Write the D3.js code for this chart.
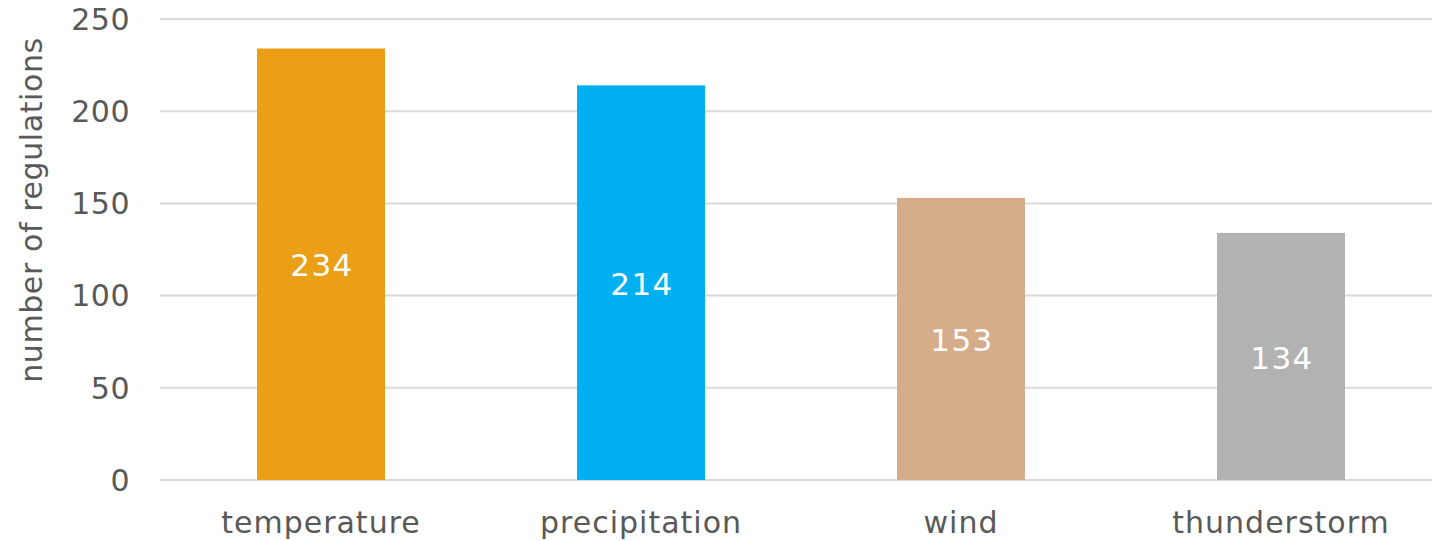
<!DOCTYPE html>
<html>
<head>
    <meta charset="utf-8">
    <title>Regulations by weather type</title>
    <script src="https://d3js.org/d3.v7.min.js"></script>
    <style>
        body { margin: 0; background: #fff; }
        text { font-family: "DejaVu Sans", Verdana, sans-serif; }
    </style>
</head>
<body>
<svg id="chart" width="1432" height="541"></svg>
<script>
var categories = ["temperature", "precipitation", "wind", "thunderstorm"];
var values = [234, 214, 153, 134];
var colors = ["#EA9F17", "#00B0F0", "#D5AD8B", "#B2B2B2"];
var yTicks = [0, 50, 100, 150, 200, 250];
var yTitle = "number of regulations";

var svg = d3.select("#chart");

var x = d3.scaleBand()
    .domain(categories)
    .range([161, 1441])
    .paddingInner(0.6)
    .paddingOuter(0.3);

var y = d3.scaleLinear()
    .domain([0, 250])
    .range([480, 19]);

// gridlines
svg.append("g")
    .selectAll("line")
    .data(yTicks)
    .enter()
    .append("line")
    .attr("x1", 160)
    .attr("x2", 1432)
    .attr("y1", d => y(d))
    .attr("y2", d => y(d))
    .attr("stroke", "#d9d9d9")
    .attr("stroke-width", 2);

// y tick labels
svg.append("g")
    .selectAll("text")
    .data(yTicks)
    .enter()
    .append("text")
    .attr("x", 130)
    .attr("y", d => y(d))
    .attr("dy", "0.36em")
    .attr("text-anchor", "end")
    .attr("font-size", 30)
    .attr("letter-spacing", 0.5)
    .attr("fill", "#595959")
    .text(d => d);

// bars
svg.append("g")
    .selectAll("rect")
    .data(values)
    .enter()
    .append("rect")
    .attr("x", (d, i) => x(categories[i]))
    .attr("y", d => y(d))
    .attr("width", x.bandwidth())
    .attr("height", d => y(0) - y(d))
    .attr("fill", (d, i) => colors[i]);

// value labels, centred in each bar
svg.append("g")
    .selectAll("text")
    .data(values)
    .enter()
    .append("text")
    .attr("x", (d, i) => x(categories[i]) + x.bandwidth() / 2 + 1)
    .attr("y", d => (y(d) + y(0)) / 2 + 1)
    .attr("dy", "0.36em")
    .attr("text-anchor", "middle")
    .attr("font-size", 31)
    .attr("letter-spacing", 1.5)
    .attr("fill", "#ffffff")
    .text(d => d);

// category labels
svg.append("g")
    .selectAll("text")
    .data(categories)
    .enter()
    .append("text")
    .attr("x", d => x(d) + x.bandwidth() / 2)
    .attr("y", 533)
    .attr("text-anchor", "middle")
    .attr("font-size", 30)
    .attr("letter-spacing", 1)
    .attr("fill", "#595959")
    .text(d => d);

// y axis title
svg.append("text")
    .attr("transform", "translate(42,210) rotate(-90)")
    .attr("text-anchor", "middle")
    .attr("font-size", 30)
    .attr("letter-spacing", 0.6)
    .attr("fill", "#595959")
    .text(yTitle);
</script>
</body>
</html>
